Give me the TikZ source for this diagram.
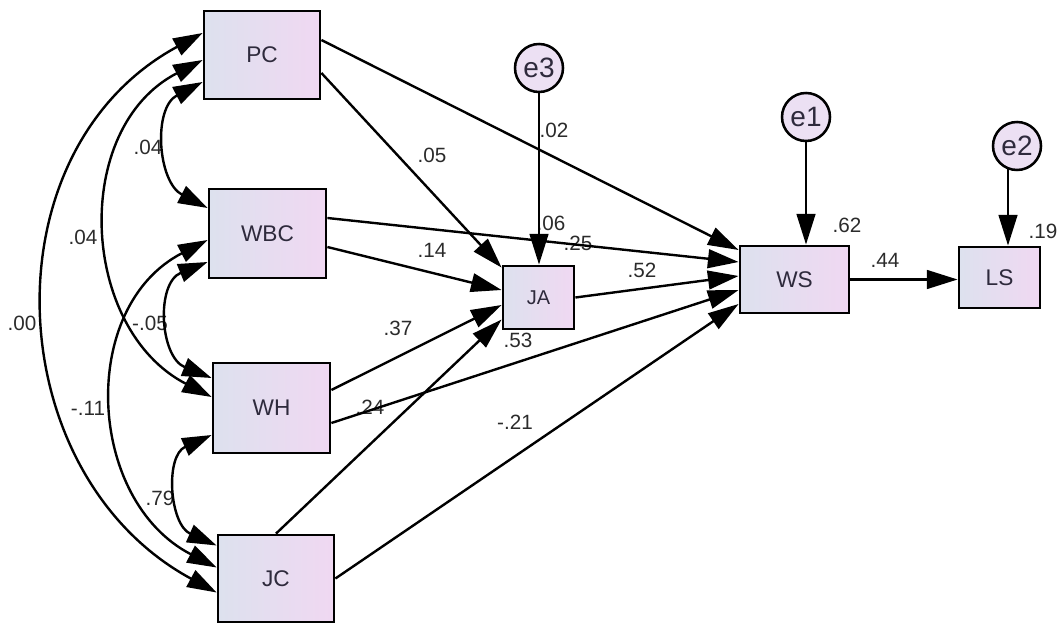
\documentclass[tikz,border=0pt]{standalone}
\usepackage{fontspec}
\setmainfont{Liberation Sans}
\usetikzlibrary{arrows.meta,calc}
\definecolor{boxl}{HTML}{DDE1EE}
\definecolor{boxr}{HTML}{F0D8F2}
\definecolor{circf}{HTML}{ECE0F3}
\definecolor{txt}{HTML}{2E2A3C}
\definecolor{lab}{HTML}{2B2B2B}
\begin{document}
\begin{tikzpicture}[x=0.75pt,y=-0.75pt,
  var/.style={draw=black,line width=2.1pt,left color=boxl,right color=boxr,text=txt,font=\fontsize{17}{18}\selectfont,inner sep=0pt},
  err/.style={circle,draw=black,line width=1.9pt,fill=circf,minimum size=36pt,inner sep=0pt,text=txt,font=\fontsize{21}{22}\selectfont},
  reg/.style={line width=1.8pt,-{Triangle[length=23pt,width=14pt]}},
  cov/.style={line width=1.8pt,{Triangle[length=22pt,width=14pt]}-{Triangle[length=22pt,width=14pt]}},
  lbl/.style={text=lab,font=\fontsize{15.5}{16}\selectfont,inner sep=0pt}
]
\useasboundingbox (0,0) rectangle (1057,624);
% labels (drawn first so lines pass over them)
\node[lbl] (l02) at (554,130) {.02};
\node[lbl] (l05) at (432,155) {.05};
\node[lbl] (l06) at (551,223) {.06};
\node[lbl] (l25) at (578,243) {.25};
\node[lbl] (l14) at (432,250) {.14};
\node[lbl] (l52) at (642,270) {.52};
\node[lbl] (l37) at (398,328) {.37};
\node[lbl] (l53) at (518,340) {.53};
\node[lbl] (l24) at (370,407) {.24};
\node[lbl] (l21) at (515,422) {-.21};
\node[lbl] (l62) at (847,225) {.62};
\node[lbl] (l44) at (885,260) {.44};
\node[lbl] (l19) at (1043,231) {.19};
\node[lbl] (la) at (148,147) {.04};
\node[lbl] (lb) at (83,237) {.04};
\node[lbl] (lc) at (22,323) {.00};
\node[lbl] (ld) at (150,323) {-.05};
\node[lbl] (le) at (88,408) {-.11};
\node[lbl] (lf) at (160,498) {.79};
% variables
\node[var,minimum width=87pt,minimum height=66pt] (PC) at (262,55) {PC};
\node[var,minimum width=87.75pt,minimum height=66.75pt] (WBC) at (267.5,233.5) {WBC};
\node[var,minimum width=87.75pt,minimum height=67.5pt] (WH) at (271.5,408) {WH};
\node[var,minimum width=87pt,minimum height=65.25pt] (JC) at (276,578.5) {JC};
\node[var,minimum width=53.25pt,minimum height=47.25pt,font=\fontsize{15}{16}\selectfont] (JA) at (538.5,297.5) {JA};
\node[var,minimum width=81.75pt,minimum height=50.25pt] (WS) at (794.5,279.5) {WS};
\node[var,minimum width=60.75pt,minimum height=45.75pt] (LS) at (999.5,277.5) {LS};
\node[err] (e3) at (539,68) {e3};
\node[err] (e1) at (806,117) {e1};
\node[err] (e2) at (1017,146) {e2};
% covariances
\draw[cov] ($(PC.west)+(0,27)$) .. controls +(-50,26) and +(-50,-26) .. ($(WBC.west)+(0,-25.5)$);
\draw[cov] ($(PC.west)+(0,5)$) .. controls +(-132,68) and +(-132,-68) .. ($(WH.west)+(0,-11)$);
\draw[cov] ($(PC.west)+(0,-22)$) .. controls +(-218,118) and +(-218,-118) .. ($(JC.west)+(0,14)$);
\draw[cov] ($(WBC.west)+(0,28.5)$) .. controls +(-52,21) and +(-52,-21) .. ($(WH.west)+(0,-30)$);
\draw[cov] ($(WBC.west)+(0,6.5)$) .. controls +(-130,67) and +(-130,-67) .. ($(JC.west)+(0,-11)$);
\draw[cov] ($(WH.west)+(0,27)$) .. controls +(-47,21) and +(-47,-21) .. ($(JC.west)+(0,-33)$);
% regressions
\draw[reg] ($(PC.east)+(0,-15)$) -- ($(WS.west)+(0,-29.5)$);
\draw[reg] ($(PC.east)+(0,18)$) -- ($(JA.north west)+(0,3)$);
\draw[reg] ($(WBC.east)+(0,-15.5)$) -- ($(WS.west)+(0,-17.5)$);
\draw[reg] ($(WBC.east)+(0,13.5)$) -- ($(JA.west)+(0,-7.5)$);
\draw[reg] ($(WH.east)+(0,-18)$) -- ($(JA.west)+(0,7.5)$);
\draw[reg] ($(WH.east)+(0,15)$) -- ($(WS.west)+(0,10.5)$);
\draw[reg] (JC.north) -- ($(JA.west)+(0,22)$);
\draw[reg] (JC.east) -- ($(WS.west)+(0,24.5)$);
\draw[reg] (JA.east) -- ($(WS.west)+(0,-3.5)$);
\draw[reg] (e3.south) -- (e3.south |- JA.north);
\draw[reg] (e1.south) -- (e1.south |- WS.north);
\draw[reg] ($(e2.south)+(-9,-1.8)$) -- ($(LS.north)+(8.5,0)$);
\draw[reg] (WS.east) -- (WS.east -| LS.west);
\end{tikzpicture}
\end{document}
